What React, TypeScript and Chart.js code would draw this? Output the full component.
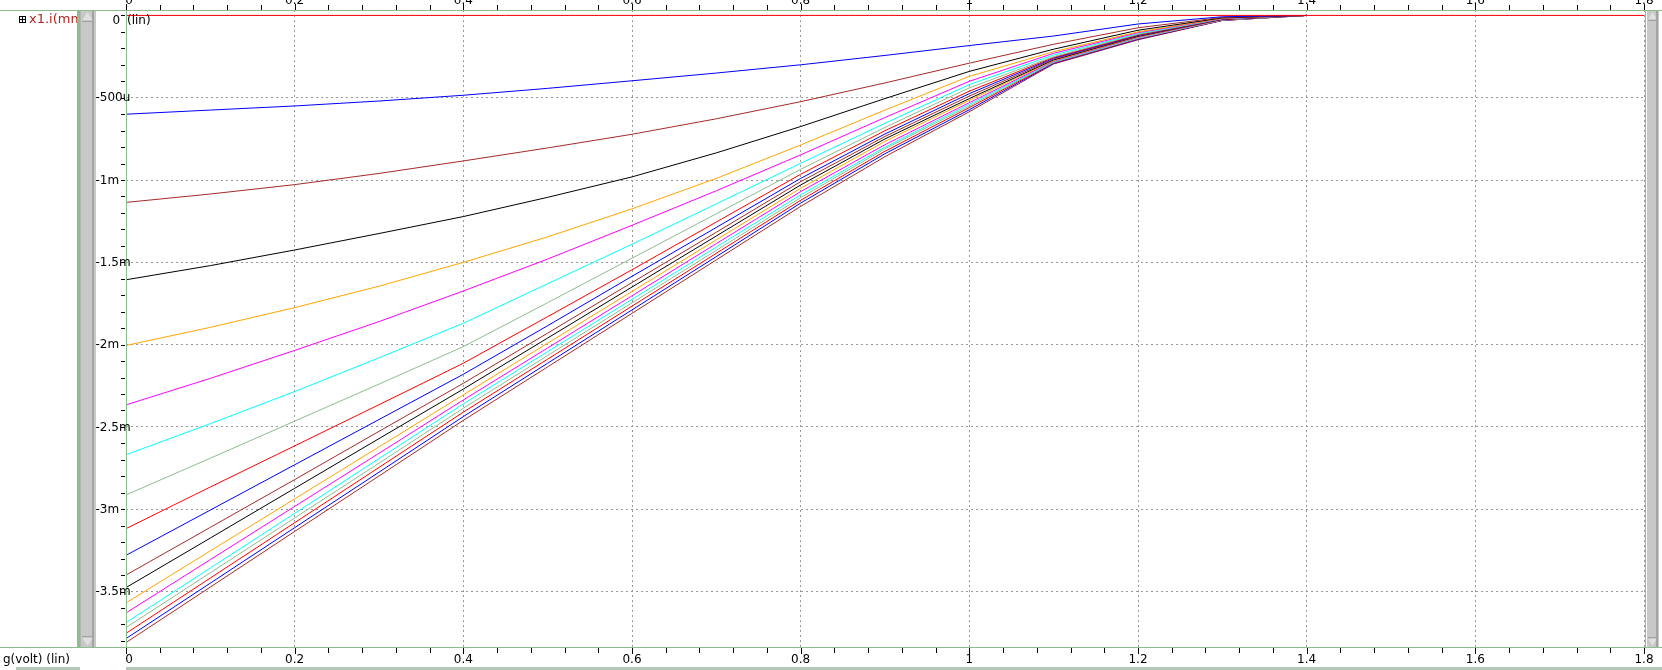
import React, { useEffect, useRef } from "react";
import { Chart, registerables } from "chart.js";

Chart.register(...registerables);

// ---- data (currents in mA, x = g in volts) ----
const xValues = [0, 0.1, 0.2, 0.3, 0.4, 0.5, 0.6, 0.7, 0.8, 0.9, 1.0, 1.1, 1.2, 1.3, 1.4];

const xTickValues = [0, 0.2, 0.4, 0.6, 0.8, 1.0, 1.2, 1.4, 1.6, 1.8];
const xTickLabels = ["0", "0.2", "0.4", "0.6", "0.8", "1", "1.2", "1.4", "1.6", "1.8"];
const yTickValues = [0, -0.5, -1, -1.5, -2, -2.5, -3, -3.5];
const yTickLabels = ["0", "-500u", "-1m", "-1.5m", "-2m", "-2.5m", "-3m", "-3.5m"];

const zeroTraceX = [0, 1.8];
const zeroTraceY = [0, 0];

const trace01 = [-0.600, -0.575, -0.550, -0.520, -0.485, -0.443, -0.397, -0.350, -0.300, -0.243, -0.183, -0.125, -0.052, -0.008, 0];
const trace02 = [-1.136, -1.085, -1.028, -0.960, -0.884, -0.805, -0.722, -0.628, -0.524, -0.410, -0.290, -0.175, -0.075, -0.012, 0];
const trace03 = [-1.606, -1.520, -1.425, -1.325, -1.222, -1.105, -0.981, -0.835, -0.675, -0.505, -0.340, -0.205, -0.090, -0.015, 0];
const trace04 = [-2.005, -1.895, -1.775, -1.645, -1.500, -1.345, -1.175, -0.990, -0.787, -0.575, -0.370, -0.220, -0.100, -0.017, 0];
const trace05 = [-2.366, -2.205, -2.035, -1.860, -1.674, -1.480, -1.275, -1.065, -0.847, -0.620, -0.400, -0.230, -0.105, -0.018, 0];
const trace06 = [-2.669, -2.480, -2.285, -2.080, -1.870, -1.630, -1.390, -1.145, -0.898, -0.655, -0.420, -0.240, -0.110, -0.019, 0];
const trace07 = [-2.913, -2.690, -2.465, -2.240, -2.012, -1.745, -1.475, -1.205, -0.935, -0.680, -0.440, -0.250, -0.115, -0.020, 0];
const trace08 = [-3.118, -2.865, -2.615, -2.365, -2.113, -1.830, -1.545, -1.255, -0.965, -0.700, -0.460, -0.255, -0.118, -0.021, 0];
const trace09 = [-3.280, -3.005, -2.730, -2.455, -2.180, -1.885, -1.585, -1.288, -0.990, -0.720, -0.475, -0.260, -0.121, -0.022, 0];
const trace10 = [-3.400, -3.110, -2.820, -2.527, -2.235, -1.930, -1.623, -1.317, -1.010, -0.735, -0.490, -0.265, -0.124, -0.023, 0];
const trace11 = [-3.476, -3.175, -2.873, -2.571, -2.270, -1.960, -1.650, -1.340, -1.030, -0.750, -0.505, -0.270, -0.127, -0.024, 0];
const trace12 = [-3.569, -3.253, -2.937, -2.621, -2.305, -1.991, -1.677, -1.363, -1.050, -0.765, -0.515, -0.274, -0.130, -0.025, 0];
const trace13 = [-3.630, -3.306, -2.983, -2.660, -2.336, -2.020, -1.703, -1.386, -1.070, -0.785, -0.530, -0.278, -0.133, -0.026, 0];
const trace14 = [-3.689, -3.357, -3.025, -2.692, -2.360, -2.042, -1.725, -1.407, -1.090, -0.800, -0.540, -0.282, -0.136, -0.027, 0];
const trace15 = [-3.719, -3.386, -3.053, -2.720, -2.386, -2.066, -1.746, -1.427, -1.107, -0.810, -0.550, -0.285, -0.139, -0.028, 0];
const trace16 = [-3.754, -3.418, -3.082, -2.746, -2.410, -2.088, -1.766, -1.445, -1.123, -0.825, -0.560, -0.288, -0.142, -0.029, 0];
const trace17 = [-3.786, -3.449, -3.112, -2.775, -2.437, -2.113, -1.789, -1.465, -1.140, -0.840, -0.573, -0.291, -0.145, -0.030, 0];
const trace18 = [-3.810, -3.473, -3.135, -2.798, -2.460, -2.135, -1.810, -1.485, -1.160, -0.858, -0.585, -0.295, -0.148, -0.031, 0];

const traces = [
  trace01, trace02, trace03, trace04, trace05, trace06, trace07, trace08, trace09,
  trace10, trace11, trace12, trace13, trace14, trace15, trace16, trace17, trace18,
];

const zeroColor = "#ff0000";
const traceColors = [
  "#0000ff", "#a52a2a", "#000000", "#ffa500", "#ff00ff", "#00ffff", "#8fbc8f", "#ff0000",
  "#0000ff", "#a52a2a", "#000000", "#ffa500", "#ff00ff", "#00ffff", "#8fbc8f", "#ff0000",
  "#0000ff", "#a52a2a",
];

const legendLabel = "x1.i(mm";
const xAxisTitle = "g(volt) (lin)";
const yAxisTag = "(lin)";

const X_MIN = 0;
const X_MAX = 1.8;
const Y_MIN = -3.837;
const Y_MAX = 0.033;

const UI_GREEN = "#8fbc8f";
const FONT = "12px 'DejaVu Sans'";

const decorPlugin = {
  id: "decor",
  beforeDraw(chart: any) {
    const ctx = chart.ctx;
    ctx.save();
    ctx.fillStyle = "#ffffff";
    ctx.fillRect(0, 0, chart.width, chart.height);
    ctx.restore();
  },
  afterDraw(chart: any) {
    const ctx = chart.ctx;
    const xs = chart.scales.x;
    const ys = chart.scales.y;
    const area = chart.chartArea;
    const W = chart.width;
    const H = chart.height;
    ctx.save();

    // frame lines
    ctx.fillStyle = UI_GREEN;
    ctx.fillRect(0, Math.round(area.top), W, 1);
    ctx.fillRect(0, Math.round(area.bottom), W, 1);
    ctx.fillRect(Math.round(area.left), Math.round(area.top), 1, area.bottom - area.top);
    ctx.fillRect(77, Math.round(area.top), 3, area.bottom - area.top);
    ctx.fillRect(Math.round(area.right) + 1, Math.round(area.top), 1, area.bottom - area.top);

    // left scrollbar
    const sbTop = Math.round(area.top) + 1;
    const sbBot = Math.round(area.bottom);
    ctx.fillStyle = "#c8c8c8";
    ctx.fillRect(80, sbTop, 16, sbBot - sbTop);
    ctx.fillStyle = "#a4a4a4";
    ctx.fillRect(92, sbTop, 2, sbBot - sbTop);
    ctx.fillStyle = "#b4b4b4";
    ctx.fillRect(80, sbTop, 1, sbBot - sbTop);
    // right scrollbar
    ctx.fillStyle = "#c8c8c8";
    ctx.fillRect(1647, sbTop, 12, sbBot - sbTop);
    ctx.fillStyle = "#a4a4a4";
    ctx.fillRect(1656, sbTop, 2, sbBot - sbTop);
    // arrows
    const tri = (cx: number, y1: number, y2: number, hw: number) => {
      ctx.beginPath();
      ctx.moveTo(cx, y1);
      ctx.lineTo(cx - hw, y2);
      ctx.lineTo(cx + hw, y2);
      ctx.closePath();
      ctx.fill();
    };
    ctx.fillStyle = "#e0e0e0";
    tri(87.5, sbTop + 1, sbTop + 9, 5);
    tri(87.5, sbBot - 1, sbBot - 9, 5);
    tri(1652.5, sbTop + 1, sbTop + 8, 4);
    tri(1652.5, sbBot - 1, sbBot - 8, 4);
    ctx.strokeStyle = "#a0a0a0";
    ctx.lineWidth = 1;
    ctx.beginPath();
    ctx.moveTo(82, sbTop + 10.5);
    ctx.lineTo(93, sbTop + 10.5);
    ctx.moveTo(82, sbBot - 10.5);
    ctx.lineTo(93, sbBot - 10.5);
    ctx.moveTo(1648, sbTop + 9.5);
    ctx.lineTo(1657, sbTop + 9.5);
    ctx.moveTo(1648, sbBot - 9.5);
    ctx.lineTo(1657, sbBot - 9.5);
    ctx.stroke();

    // bottom strip
    ctx.fillStyle = "#b8c8b8";
    ctx.fillRect(16, H - 3, 64, 3);
    ctx.fillRect(Math.round(area.left), H - 3, W - Math.round(area.left), 3);

    // minor ticks
    ctx.strokeStyle = "#000000";
    ctx.lineWidth = 1;
    ctx.beginPath();
    for (let i = 0; i <= 45; i++) {
      const v = X_MIN + (i * (X_MAX - X_MIN)) / 45;
      const px = Math.round(xs.getPixelForValue(v)) + 0.5;
      const major = i % 5 === 0;
      ctx.moveTo(px, area.top);
      ctx.lineTo(px, area.top - (major ? 6 : 5));
      ctx.moveTo(px, area.bottom + 1);
      ctx.lineTo(px, area.bottom + (major ? 7 : 6));
    }
    for (let i = 0; i <= 38; i++) {
      const v = -i * 0.1;
      const py = Math.round(ys.getPixelForValue(v)) + 0.5;
      ctx.moveTo(area.left - 5, py);
      ctx.lineTo(area.left - 1, py);
    }
    ctx.stroke();

    // texts
    ctx.font = FONT;
    ctx.fillStyle = "#000000";
    ctx.textBaseline = "middle";
    yTickValues.forEach((v, i) => {
      const py = ys.getPixelForValue(v);
      ctx.textAlign = "left";
      if (i === 0) {
        ctx.fillText(yTickLabels[i], 112.5, py + 5);
      } else {
        ctx.fillText(yTickLabels[i], 95.5, py + 0.5);
      }
    });
    ctx.textAlign = "left";
    ctx.fillText(yAxisTag, 127, ys.getPixelForValue(0) + 5);

    ctx.textAlign = "center";
    xTickValues.forEach((v, i) => {
      const px = xs.getPixelForValue(v);
      ctx.textBaseline = "middle";
      const bx = i === 0 ? px + 3 : px;
      ctx.fillText(xTickLabels[i], bx, area.bottom + 13);
      ctx.textBaseline = "alphabetic";
      ctx.fillText(xTickLabels[i], bx, area.top - 6);
    });
    ctx.textAlign = "left";
    ctx.textBaseline = "middle";
    ctx.fillText(xAxisTitle, 3, area.bottom + 13);

    // legend label
    ctx.save();
    ctx.beginPath();
    ctx.rect(0, 0, 77, H);
    ctx.clip();
    ctx.fillStyle = "#b22222";
    ctx.font = "13px 'DejaVu Sans'";
    ctx.fillText(legendLabel, 29, ys.getPixelForValue(0) + 4.5);
    ctx.restore();
    ctx.strokeStyle = "#000000";
    ctx.lineWidth = 1;
    ctx.strokeRect(19.5, 16.5, 6, 6);
    ctx.beginPath();
    ctx.moveTo(22.5, 16.5);
    ctx.lineTo(22.5, 22.5);
    ctx.moveTo(19.5, 19.5);
    ctx.lineTo(25.5, 19.5);
    ctx.stroke();

    ctx.restore();
  },
};

export default function App() {
  const canvasRef = useRef<HTMLCanvasElement | null>(null);

  useEffect(() => {
    document.body.style.margin = "0";
    const canvas = canvasRef.current;
    if (!canvas) return;

    const datasets: any[] = [
      {
        data: zeroTraceX.map((x, i) => ({ x, y: zeroTraceY[i] })),
        borderColor: zeroColor,
        borderWidth: 1,
        pointRadius: 0,
        fill: false,
      },
      ...traces.map((t, k) => ({
        data: xValues.map((x, i) => ({ x, y: t[i] })),
        borderColor: traceColors[k],
        borderWidth: 1,
        pointRadius: 0,
        fill: false,
        tension: 0,
      })),
    ];

    const chart = new Chart(canvas, {
      type: "line",
      data: { datasets },
      options: {
        animation: false,
        responsive: false,
        devicePixelRatio: 1,
        layout: { padding: { left: 126, right: 18, top: 10, bottom: 23 } },
        plugins: { legend: { display: false }, tooltip: { enabled: false } },
        events: [],
        scales: {
          x: {
            type: "linear",
            min: X_MIN,
            max: X_MAX,
            afterBuildTicks: (scale: any) => {
              scale.ticks = xTickValues.map((v) => ({ value: v }));
            },
            ticks: { display: false },
            grid: { color: "#999999", drawTicks: false, lineWidth: 1 },
            border: { display: false, dash: [2, 3] },
          },
          y: {
            type: "linear",
            min: Y_MIN,
            max: Y_MAX,
            afterBuildTicks: (scale: any) => {
              scale.ticks = yTickValues.map((v) => ({ value: v }));
            },
            ticks: { display: false },
            grid: { color: "#999999", drawTicks: false, lineWidth: 1 },
            border: { display: false, dash: [2, 3] },
          },
        },
      },
      plugins: [decorPlugin],
    });

    return () => chart.destroy();
  }, []);

  return (
    <div style={{ position: "absolute", left: 0, top: 0, width: 1662, height: 670 }}>
      <canvas ref={canvasRef} width={1662} height={670} style={{ display: "block" }} />
    </div>
  );
}
